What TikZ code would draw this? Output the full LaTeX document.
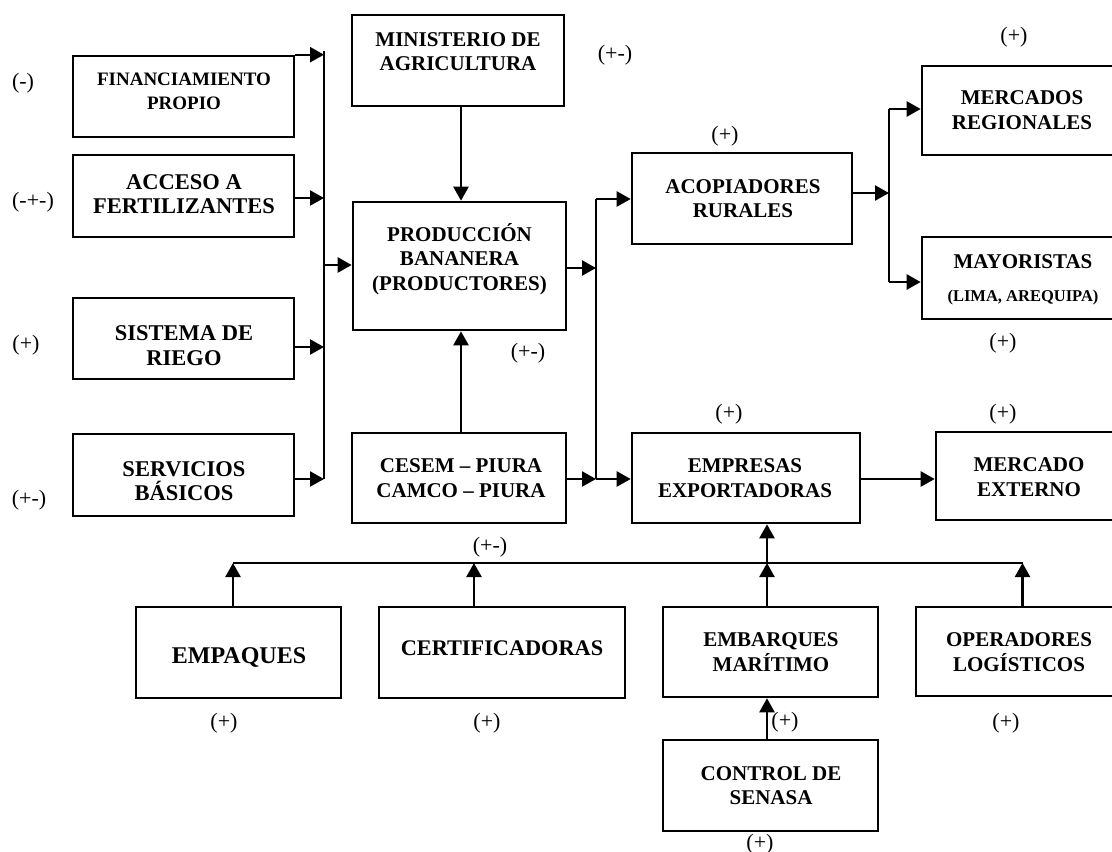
\documentclass[tikz,border=0pt]{standalone}
\usepackage{fontspec}
\setmainfont{Liberation Serif}
\usetikzlibrary{arrows.meta}
\begin{document}
\begin{tikzpicture}[x=1pt,y=-1pt,
  box/.style={draw, rectangle, line width=2.6pt, inner sep=0pt},
  txt/.style={align=center, inner sep=0pt, font=\fontsize{#1}{24.5}\selectfont\bfseries},
  txt/.default=21,
  lbl/.style={inner sep=0pt, font=\fontsize{22}{24}\selectfont},
  ln/.style={line width=2.4pt},
  arr/.style={line width=2.4pt, -{Triangle[length=14pt,width=15pt]}}]
\clip (0,0) rectangle (1112,852);
\fill[white] (0,0) rectangle (1112,852);

% ---- boxes ----
\node[box, minimum width=221pt, minimum height=81pt] (fin) at (183.5,96.5) {};
\node[box, minimum width=221pt, minimum height=82pt] (acc) at (183.5,196) {};
\node[box, minimum width=221pt, minimum height=81pt] (rie) at (183.5,338.5) {};
\node[box, minimum width=221pt, minimum height=82pt] (ser) at (183.5,475) {};
\node[box, minimum width=212pt, minimum height=91pt] (min) at (458,60.5) {};
\node[box, minimum width=213pt, minimum height=128pt] (prod) at (459.5,266) {};
\node[box, minimum width=214pt, minimum height=90pt] (ces) at (459,478) {};
\node[box, minimum width=220pt, minimum height=91pt] (aco) at (742,198.5) {};
\node[box, minimum width=200pt, minimum height=89pt] (mer) at (1022,110.5) {};
\node[box, minimum width=200pt, minimum height=82pt] (may) at (1022,278) {};
\node[box, minimum width=228pt, minimum height=90pt] (emp) at (746,478) {};
\node[box, minimum width=186pt, minimum height=88pt] (ext) at (1029,476) {};
\node[box, minimum width=205pt, minimum height=91pt] (emq) at (238.5,652.5) {};
\node[box, minimum width=246pt, minimum height=91pt] (cer) at (502,652.5) {};
\node[box, minimum width=215pt, minimum height=90pt] (emb) at (770.5,652) {};
\node[box, minimum width=206pt, minimum height=89pt] (ope) at (1019,651.5) {};
\node[box, minimum width=215pt, minimum height=91pt] (con) at (770.5,785.5) {};

% ---- box texts ----
\node[txt=19] (fin-t) at (184,91.5) {FINANCIAMIENTO\\PROPIO};
\node[txt=22.5] (acc-t) at (184,194) {ACCESO A\\FERTILIZANTES};
\node[txt=22.5] (rie-t) at (184,345.5) {SISTEMA DE\\RIEGO};
\node[txt=22.5] (ser-t) at (184,481) {SERVICIOS\\BÁSICOS};
\node[txt] (min-t) at (458,51.5) {MINISTERIO DE\\AGRICULTURA};
\node[txt] (prod-t) at (459.5,259) {PRODUCCIÓN\\BANANERA\\(PRODUCTORES)};
\node[txt] (ces-t) at (461,478) {CESEM – PIURA\\CAMCO – PIURA};
\node[txt] (aco-t) at (743,198.5) {ACOPIADORES\\RURALES};
\node[txt] (mer-t) at (1022,110) {MERCADOS\\REGIONALES};
\node[txt] (may-t1) at (1023,262) {MAYORISTAS};
\node[txt=16.5] (may-t2) at (1023,298) {(LIMA, AREQUIPA)};
\node[txt] (emp-t) at (745,478) {EMPRESAS\\EXPORTADORAS};
\node[txt] (ext-t) at (1029,477) {MERCADO\\EXTERNO};
\node[txt=24] (emq-t) at (239,657) {EMPAQUES};
\node[txt=22.3] (cer-t) at (502,648) {CERTIFICADORAS};
\node[txt] (emb-t) at (771,652) {EMBARQUES\\MARÍTIMO};
\node[txt] (ope-t) at (1019,652) {OPERADORES\\LOGÍSTICOS};
\node[txt] (con-t) at (771,785.5) {CONTROL DE\\SENASA};

% ---- signs ----
\node[lbl] (s1) at (23,83) {(-)};
\node[lbl] (s2) at (33,202) {(-+-)};
\node[lbl] (s3) at (26,345) {(+)};
\node[lbl] (s4) at (29,500) {(+-)};
\node[lbl] (s5) at (615,55) {(+-)};
\node[lbl] (s6) at (725,136) {(+)};
\node[lbl] (s7) at (1014,37) {(+)};
\node[lbl] (s8) at (1003,343) {(+)};
\node[lbl] (s9) at (528,353) {(+-)};
\node[lbl] (s10) at (729,414) {(+)};
\node[lbl] (s11) at (1003,414) {(+)};
\node[lbl] (s12) at (490,547) {(+-)};
\node[lbl] (s13) at (224,723) {(+)};
\node[lbl] (s14) at (487,723) {(+)};
\node[lbl] (s15) at (785,722) {(+)};
\node[lbl] (s16) at (1006,723) {(+)};
\node[lbl] (s17) at (760,844) {(+)};

% ---- reference lines ----
\coordinate (busL) at (324,0);
\coordinate (busR) at (596,0);
\coordinate (busM) at (889,0);
\coordinate (xMid) at (461,0);
\coordinate (xE1) at (233,0);
\coordinate (xE2) at (474,0);
\coordinate (xE3) at (767,0);
\coordinate (xE4) at (1022.5,0);
\coordinate (yTop) at (0,51);
\coordinate (yAcc) at (0,198);
\coordinate (yRie) at (0,347);
\coordinate (ySer) at (0,479);
\coordinate (yProdIn) at (0,265);
\coordinate (yProdOut) at (0,268);
\coordinate (yAco) at (0,199);
\coordinate (yEmp) at (0,479);
\coordinate (yAcoOut) at (0,193);
\coordinate (yMer) at (0,109);
\coordinate (yMay) at (0,282);
\coordinate (yB) at (0,563);

% ---- left collector ----
\draw[ln] (busL |- yTop) -- (busL |- ySer);
\draw[arr] (fin.north east) -- (fin.north east -| busL);
\draw[arr] (acc.east |- yAcc) -- (busL |- yAcc);
\draw[arr] (rie.east |- yRie) -- (busL |- yRie);
\draw[arr] (ser.east |- ySer) -- (busL |- ySer);
\draw[arr] (busL |- yProdIn) -- (prod.west |- yProdIn);

% ---- central column ----
\draw[arr] (min.south -| xMid) -- (prod.north -| xMid);
\draw[arr] (ces.north -| xMid) -- (prod.south -| xMid);

% ---- distribution to buyers ----
\draw[ln] (busR |- yAco) -- (busR |- yEmp);
\draw[arr] (prod.east |- yProdOut) -- (busR |- yProdOut);
\draw[arr] (busR |- yAco) -- (aco.west |- yAco);
\draw[arr] (ces.east |- yEmp) -- (busR |- yEmp);
\draw[arr] (busR |- yEmp) -- (emp.west |- yEmp);
\draw[arr] (emp.east |- yEmp) -- (ext.west |- yEmp);

% ---- rural collectors to markets ----
\draw[arr] (aco.east |- yAcoOut) -- (busM |- yAcoOut);
\draw[ln] (busM |- yMer) -- (busM |- yMay);
\draw[arr] (busM |- yMer) -- (mer.west |- yMer);
\draw[arr] (busM |- yMay) -- (may.west |- yMay);

% ---- export services ----
\draw[ln] (xE1 |- yB) -- (xE4 |- yB);
\draw[arr] (emq.north -| xE1) -- (xE1 |- yB);
\draw[arr] (cer.north -| xE2) -- (xE2 |- yB);
\draw[arr] (emb.north -| xE3) -- (xE3 |- yB);
\draw[arr] (ope.north -| xE4) -- (xE4 |- yB);
\draw[arr] (xE3 |- yB) -- (emp.south -| xE3);
\draw[arr] (con.north -| xE3) -- (emb.south -| xE3);
\end{tikzpicture}
\end{document}
